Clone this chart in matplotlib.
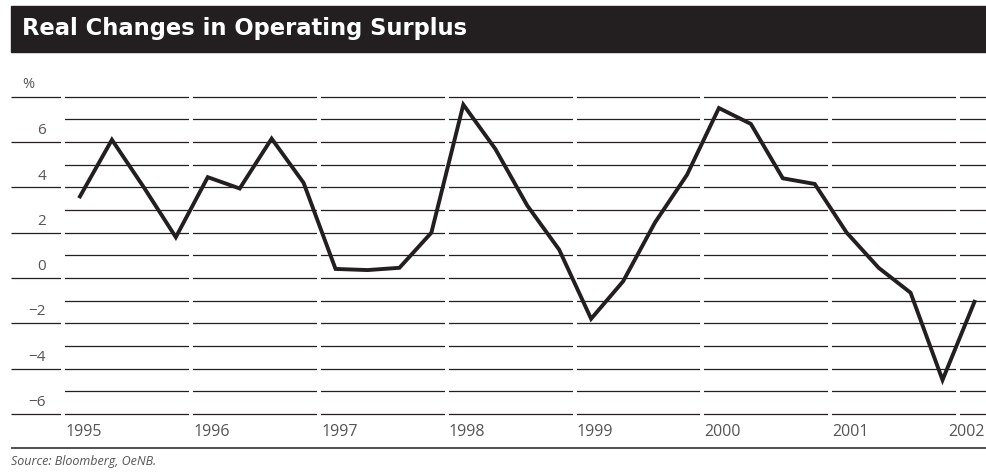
import numpy as np
import matplotlib.pyplot as plt
from matplotlib.patches import Rectangle

# quarterly data, 1995Q1 .. 2002Q1
years = [1995, 1996, 1997, 1998, 1999, 2000, 2001, 2002]
values = [3.6, 6.1, 4.0, 1.8,
          4.45, 3.95, 6.15, 4.2,
          0.4, 0.35, 0.45, 2.0,
          7.65, 5.7, 3.2, 1.25,
          -1.8, -0.15, 2.45, 4.55,
          7.5, 6.8, 4.4, 4.15,
          2.0, 0.45, -0.65, -4.5,
          -1.05]
x = 1995 + 0.125 + np.arange(len(values)) * 0.25
ytick_vals = [-6, -4, -2, 0, 2, 4, 6]

dark = '#231f20'
grey = '#555555'
lab_font = 'Open Sans'

fig = plt.figure(figsize=(9.86, 4.74), dpi=100)
W, H = 986, 474

# title bar
fig.patches.append(Rectangle((11 / W, 1 - 52 / H), 975 / W, 46 / H,
                             transform=fig.transFigure, color=dark, zorder=0))
fig.text(22 / W, 1 - 29 / H, 'Real Changes in Operating Surplus', color='white',
         fontsize=16.3, fontweight='bold', family='DejaVu Sans', va='center', ha='left')

ax = fig.add_axes([11 / W, 0, 975 / W, 1])
ax.set_axis_off()
scale = 22.66
ax.set_ylim(-(H - 278) / scale, 278 / scale)
x0 = 1995 - 53 / 127.8
x1 = 2002 + 27.5 / 127.8
ax.set_xlim(x0, x1)

# grid lines
for v in range(-6, 9):
    start = x0 if v % 2 == 0 else 1995
    ax.plot([start, x1], [v, v], color=dark, lw=0.9, zorder=1, solid_capstyle='butt')
# year gaps
for yr in years:
    ax.plot([yr - 0.5 / 127.8, yr - 0.5 / 127.8], [-6.3, 8.3], color='white', lw=2.8, zorder=2)

ax.plot(x, values, color=dark, lw=2.8, zorder=3, solid_joinstyle='miter')

# y labels
for v in ytick_vals:
    lab = str(v) if v >= 0 else '\u2212' + str(-v)
    ax.text(1995 - 18 / 127.8, v + 0.5, lab, ha='right', va='center',
            fontsize=11, color=grey, family=lab_font)
ax.text(x0 + 11 / 127.8, 8.55, '%', ha='left', va='center', fontsize=10.5,
        color=grey, family=lab_font)

# x labels
for yr in years[:-1]:
    ax.text(yr + 1.5 / 127.8, -6.8, str(yr), ha='left', va='center', fontsize=11.5,
            color=grey, family=lab_font)
ax.text(x1 - 1 / 127.8, -6.8, str(years[-1]), ha='right', va='center', fontsize=11.5,
        color=grey, family=lab_font)

ax.plot([x0, x1], [-7.5, -7.5], color=dark, lw=1.1, zorder=1)
ax.text(x0, -8.1, 'Source: Bloomberg, OeNB.', ha='left', va='center', fontsize=9,
        style='italic', color=grey, family=lab_font)

fig.savefig('out.png', dpi=100)
